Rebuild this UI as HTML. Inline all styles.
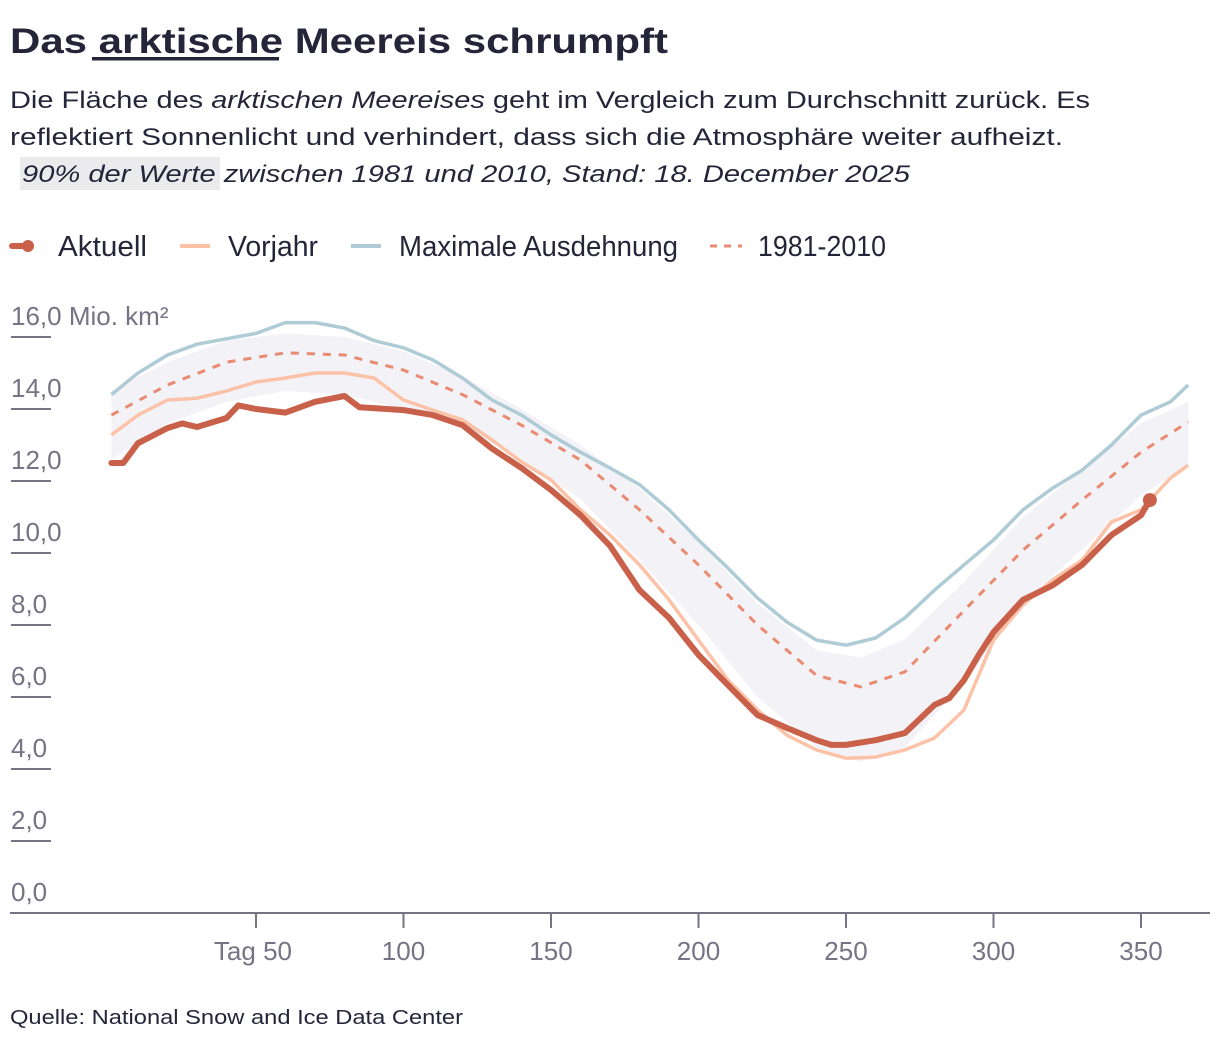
<!DOCTYPE html>
<html><head><meta charset="utf-8"><style>
html,body{margin:0;padding:0;background:#fff;}
svg{display:block;font-family:"Liberation Sans",sans-serif;}
.ax{font-family:"Liberation Sans Narrow","Liberation Sans",sans-serif;fill:#757384;font-size:26px;}
.lg{font-family:"Liberation Sans Narrow","Liberation Sans",sans-serif;fill:#25253a;font-size:29px;}
</style></head><body>
<svg id="chart" width="1220" height="1042" viewBox="0 0 1220 1042">
<text x="10" y="53" font-size="35" font-weight="bold" fill="#25253a" textLength="658" lengthAdjust="spacingAndGlyphs">Das arktische Meereis schrumpft</text>
<rect x="92" y="57" width="187" height="3.5" fill="#25253a"/>
<text x="10" y="108" font-size="24" fill="#25253a" textLength="1080" lengthAdjust="spacingAndGlyphs">Die Fläche des <tspan font-style="italic">arktischen Meereises</tspan> geht im Vergleich zum Durchschnitt zurück. Es</text>
<text x="10" y="145" font-size="24" fill="#25253a" textLength="1053" lengthAdjust="spacingAndGlyphs">reflektiert Sonnenlicht und verhindert, dass sich die Atmosphäre weiter aufheizt.</text>
<rect x="20" y="157" width="200" height="33" fill="#ebebee"/>
<text x="22" y="182" font-size="24" font-style="italic" fill="#25253a" textLength="888" lengthAdjust="spacingAndGlyphs">90% der Werte  zwischen 1981 und 2010, Stand: 18. December 2025</text>

<g>
<line x1="12" y1="246" x2="28" y2="246" stroke="#c9614a" stroke-width="6" stroke-linecap="round"/>
<circle cx="28" cy="246" r="6" fill="#c9614a"/>
<text class="lg" x="58" y="256" textLength="89" lengthAdjust="spacingAndGlyphs">Aktuell</text>
<line x1="180" y1="246" x2="210" y2="246" stroke="#fcc2a8" stroke-width="4"/>
<text class="lg" x="228" y="256" textLength="90" lengthAdjust="spacingAndGlyphs">Vorjahr</text>
<line x1="351" y1="246" x2="381" y2="246" stroke="#afcbd5" stroke-width="4"/>
<text class="lg" x="399" y="256" textLength="279" lengthAdjust="spacingAndGlyphs">Maximale Ausdehnung</text>
<line x1="710" y1="246" x2="742" y2="246" stroke="#e98a72" stroke-width="3" stroke-dasharray="7,7"/>
<text class="lg" x="758" y="256" textLength="128" lengthAdjust="spacingAndGlyphs">1981-2010</text>
</g>
<g id="plot"></g>
<text x="10" y="1024" font-size="20" fill="#25253a" textLength="453" lengthAdjust="spacingAndGlyphs">Quelle: National Snow and Ice Data Center</text>
</svg>
<script>
const yTicks=[0,2,4,6,8,10,12,14,16];
const xTicks=[50,100,150,200,250,300,350];
const aktDays=[1,5,10,20,25,30,40,44,50,60,70,80,85,100,110,120,130,140,150,160,170,180,190,200,210,220,230,240,245,250,260,270,280,285,290,295,300,310,320,330,340,350,353];
const aktVals=[12.5,12.5,13.05,13.47,13.6,13.5,13.75,14.1,14.0,13.9,14.2,14.36,14.05,13.97,13.83,13.55,12.9,12.36,11.75,11.05,10.2,8.97,8.2,7.17,6.33,5.5,5.14,4.8,4.67,4.67,4.8,5.0,5.78,5.97,6.47,7.17,7.8,8.7,9.1,9.67,10.5,11.05,11.47];
const vorDays=[1,10,20,30,40,50,60,70,80,90,100,110,120,130,140,150,160,170,180,190,200,210,220,230,240,250,260,270,280,290,300,310,320,330,340,350,360,366];
const vorVals=[13.28,13.83,14.25,14.3,14.5,14.75,14.86,15.0,15.0,14.86,14.25,13.97,13.7,13.14,12.53,12.03,11.2,10.5,9.67,8.7,7.58,6.47,5.64,4.94,4.53,4.3,4.33,4.53,4.86,5.64,7.58,8.56,9.25,9.8,10.86,11.2,12.08,12.44];
const maxDays=[1,10,20,30,50,60,70,80,90,100,110,120,130,140,150,160,170,180,190,200,210,220,230,240,250,260,270,280,290,300,310,320,330,340,350,360,366];
const maxVals=[14.4,15.0,15.5,15.8,16.1,16.4,16.4,16.25,15.9,15.7,15.36,14.86,14.25,13.83,13.28,12.8,12.36,11.9,11.2,10.36,9.58,8.75,8.08,7.58,7.44,7.64,8.2,8.97,9.67,10.36,11.2,11.8,12.3,13.0,13.83,14.2,14.67];
const medDays=[1,20,40,60,80,100,120,140,160,180,200,220,240,255,270,290,310,330,350,366];
const medVals=[13.83,14.67,15.3,15.56,15.5,15.08,14.4,13.55,12.58,11.2,9.67,8.0,6.6,6.28,6.7,8.4,10.08,11.47,12.8,13.64];
const bandUpper=[14.5,15.3,15.9,16.1,16.0,15.6,14.9,14.0,13.0,11.8,10.3,8.6,7.3,7.1,7.6,9.2,11.0,12.3,13.6,14.2];
const bandLower=[12.6,13.6,14.2,14.5,14.4,14.0,13.5,12.6,11.5,9.8,8.0,6.0,4.6,4.2,4.6,6.4,8.6,10.1,11.6,12.4];

const X=d=>256+(d-50)*2.95;
const Y=v=>913-36*v;
const NS="http://www.w3.org/2000/svg";
const plot=document.getElementById('plot');
function mk(tag,attrs){const e=document.createElementNS(NS,tag);for(const k in attrs)e.setAttribute(k,attrs[k]);plot.appendChild(e);return e;}
function path(days,vals){return days.map((d,i)=>(i?'L':'M')+X(d).toFixed(1)+','+Y(vals[i]).toFixed(1)).join(' ');}

// band
let bd=path(medDays,bandUpper)+' '+medDays.slice().reverse().map((d,i)=>'L'+X(d).toFixed(1)+','+Y(bandLower[medDays.length-1-i]).toFixed(1)).join(' ')+' Z';
const band=mk('path',{d:bd,fill:'#f3f2f7'});



// y ticks
yTicks.forEach(v=>{
  const t=mk('text',{x:11,y:Y(v)-12,class:'ax'});
  t.textContent=v.toFixed(1).replace('.',',')+(v===16?' Mio. km²':'');
  
  
  if(v>0){const l=mk('line',{x1:11,x2:51,y1:Y(v),y2:Y(v),stroke:'#757384','stroke-width':2});
  
  }
});
const ax=mk('line',{x1:10,x2:1210,y1:913,y2:913,stroke:'#757384','stroke-width':2});


xTicks.forEach(d=>{
  const l=mk('line',{x1:X(d),x2:X(d),y1:913,y2:928,stroke:'#757384','stroke-width':2});
  
  
  const t=mk('text',{x:X(d),y:960,class:'ax','text-anchor':d===50?'end':'middle'});
  if(d===50)t.setAttribute('x',X(d)+36);
  t.textContent=(d===50?'Tag ':'')+d;
  
  
});

const mx=mk('path',{d:path(maxDays,maxVals),fill:'none',stroke:'#afcbd5','stroke-width':3.5,'stroke-linejoin':'round'});


const md=mk('path',{d:path(medDays,medVals),fill:'none',stroke:'#e98a72','stroke-width':3,'stroke-dasharray':'8,8'});


const vj=mk('path',{d:path(vorDays,vorVals),fill:'none',stroke:'#fcc2a8','stroke-width':3.5,'stroke-linejoin':'round'});


const ak=mk('path',{d:path(aktDays,aktVals),fill:'none',stroke:'#c9614a','stroke-width':6,'stroke-linejoin':'round','stroke-linecap':'round'});


const last=aktDays.length-1;
const dot=mk('circle',{cx:X(aktDays[last]),cy:Y(aktVals[last]),r:7,fill:'#c9614a'});


</script>
</body></html>
